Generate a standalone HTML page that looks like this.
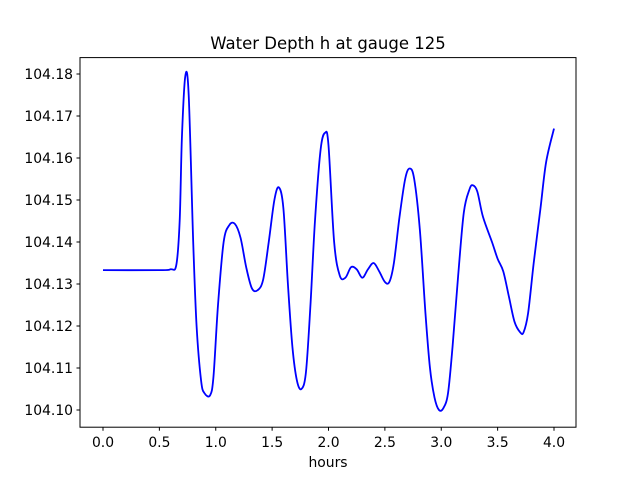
<!DOCTYPE html>
<html><head><meta charset="utf-8"><style>
body{margin:0;background:#fff;}
svg{display:block;font-family:"DejaVu Sans","Liberation Sans",sans-serif;}
</style></head><body>
<svg id="chart" width="640" height="480">
<rect width="640" height="480" fill="#fff"/>
<text x="328" y="49" text-anchor="middle" font-size="16.5">Water Depth h at gauge 125</text>
<g id="xt"></g><g id="yt"></g>
<path id="line" fill="none" stroke="#0000ff" stroke-width="1.8" stroke-linejoin="round"/>
<rect x="80" y="57.6" width="496" height="369.6" fill="none" stroke="#000" stroke-width="1"/>
<text x="328" y="467" text-anchor="middle" font-size="13.9">hours</text>
</svg>
<script>
const times=[0.0,0.5,0.6,0.65,0.68,0.7,0.73,0.76,0.8,0.83,0.87,0.9,0.95,0.98,1.02,1.07,1.12,1.17,1.22,1.27,1.32,1.37,1.42,1.47,1.52,1.56,1.6,1.64,1.68,1.72,1.76,1.8,1.84,1.88,1.93,1.97,2.0,2.05,2.1,2.15,2.2,2.25,2.3,2.35,2.4,2.45,2.5,2.54,2.58,2.63,2.68,2.72,2.76,2.81,2.86,2.9,2.94,2.98,3.02,3.06,3.1,3.15,3.2,3.25,3.28,3.32,3.37,3.45,3.5,3.55,3.6,3.65,3.7,3.73,3.77,3.82,3.88,3.93,4.0];
const depths=[104.1333,104.1333,104.1335,104.1345,104.145,104.165,104.1795,104.175,104.140,104.12,104.107,104.104,104.1035,104.108,104.125,104.140,104.144,104.1443,104.141,104.134,104.129,104.1285,104.131,104.140,104.150,104.153,104.148,104.130,104.115,104.107,104.105,104.109,104.125,104.145,104.162,104.166,104.163,104.140,104.132,104.1315,104.134,104.1335,104.1315,104.1335,104.135,104.133,104.1305,104.1305,104.135,104.146,104.155,104.1575,104.155,104.143,104.123,104.110,104.103,104.1,104.1005,104.104,104.115,104.132,104.147,104.1525,104.1535,104.152,104.146,104.140,104.136,104.133,104.127,104.121,104.1185,104.1185,104.123,104.135,104.148,104.159,104.167];
const xTicks=[0.0,0.5,1.0,1.5,2.0,2.5,3.0,3.5,4.0];
const yTicks=[104.10,104.11,104.12,104.13,104.14,104.15,104.16,104.17,104.18];
const X=t=>103+t*112.75;
const Y=h=>410-(h-104.10)*4200;
const NS="http://www.w3.org/2000/svg";
function mk(tag,attrs,parent){const e=document.createElementNS(NS,tag);for(const k in attrs)e.setAttribute(k,attrs[k]);parent.appendChild(e);return e;}
const xt=document.getElementById('xt'),yt=document.getElementById('yt');
xTicks.forEach(v=>{
 const l=mk('line',{x1:X(v),x2:X(v),y1:427.2,y2:430.7,stroke:'#000'},xt);
 
 
 const t=mk('text',{x:X(v),y:447,'text-anchor':'middle','font-size':'13.9'},xt);
 t.textContent=v.toFixed(1);
 
 
});
yTicks.forEach(v=>{
 const l=mk('line',{x1:76.5,x2:80,y1:Y(v),y2:Y(v),stroke:'#000'},yt);
 
 
 const t=mk('text',{x:73,y:Y(v)+5,'text-anchor':'end','font-size':'13.9'},yt);
 t.textContent=v.toFixed(2);
 
 
});
const pts=times.map((t,i)=>[X(t),Y(depths[i])]);
let d='M'+pts[0][0]+','+pts[0][1];
for(let i=0;i<pts.length-1;i++){
 const p0=pts[Math.max(i-1,0)],p1=pts[i],p2=pts[i+1],p3=pts[Math.min(i+2,pts.length-1)];
 const c1=[p1[0]+(p2[0]-p0[0])/6,p1[1]+(p2[1]-p0[1])/6];
 const c2=[p2[0]-(p3[0]-p1[0])/6,p2[1]-(p3[1]-p1[1])/6];
 d+=' C'+c1+' '+c2+' '+p2;
}
document.getElementById('line').setAttribute('d',d);
</script>
</body></html>
